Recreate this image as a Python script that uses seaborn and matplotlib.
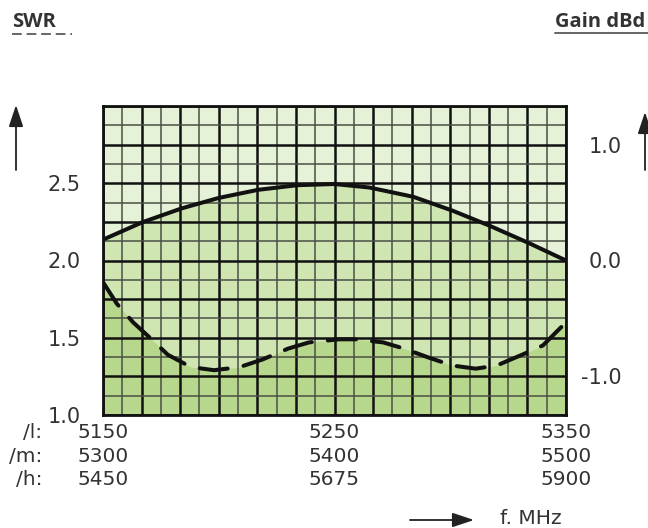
import numpy as np
import matplotlib
matplotlib.use("Agg")
import matplotlib.pyplot as plt
import seaborn as sns

# gain curve (dBd, right axis) over the /l band in MHz
freq_gain = [5150, 5167, 5184, 5200, 5217, 5234, 5250, 5265, 5284, 5301, 5317, 5334, 5350]
gain = [0.18, 0.33, 0.45, 0.54, 0.61, 0.65, 0.66, 0.63, 0.55, 0.43, 0.30, 0.15, 0.0]

# SWR curve (left axis)
freq_swr = [5150, 5156, 5163, 5171, 5178, 5188, 5198, 5209, 5219, 5230, 5239, 5252,
            5259, 5271, 5280, 5291, 5301, 5311, 5320, 5331, 5340, 5348, 5350]
swr = [1.86, 1.72, 1.60, 1.49, 1.39, 1.31, 1.29, 1.31, 1.36, 1.43, 1.47, 1.49,
       1.49, 1.47, 1.43, 1.37, 1.32, 1.30, 1.32, 1.39, 1.45, 1.57, 1.60]

# tick labels for the three bands
freq_l = [5150, 5250, 5350]
freq_m = [5300, 5400, 5500]
freq_h = [5450, 5675, 5900]
swr_ticks = [1.0, 1.5, 2.0, 2.5]
gain_ticks = [-1.0, 0.0, 1.0]

sns.set_style("white")
plt.rcParams["font.family"] = ["DejaVu Sans"]

txt = "#333333"
light = "#e6f2d8"
mid = "#cfe6b3"
dark = "#b6d78c"

fig = plt.figure(figsize=(6.48, 5.28), dpi=100)
ax = fig.add_axes([103 / 648, 1 - 415 / 528, 463 / 648, 309 / 528])
ax2 = ax.twinx()
ax.set_zorder(2)
ax2.set_zorder(1)
ax.patch.set_visible(False)

# background + area under the gain curve
ax2.axhspan(-4 / 3, 4 / 3, color=light, lw=0)
ax2.fill_between(freq_gain, -4 / 3, gain, color=mid, lw=0)
# area under the SWR curve
ax.fill_between(freq_swr, 1, swr, color=dark, lw=0)

# grid paper
gx = np.linspace(5150, 5350, 25)
gy = np.linspace(1, 3, 17)
ax.vlines(gx, 1, 3, colors=["#111111" if i % 2 == 0 else "#4a4f45" for i in range(len(gx))],
          linewidths=[1.8 if i % 2 == 0 else 1.1 for i in range(len(gx))])
ax.hlines(gy, 5150, 5350, colors=["#111111" if i % 2 == 0 else "#4a4f45" for i in range(len(gy))],
          linewidths=[1.8 if i % 2 == 0 else 1.1 for i in range(len(gy))])

sns.lineplot(x=freq_swr, y=swr, ax=ax, color="#111111", lw=2.9,
             linestyle=(0, (7, 4)), dash_capstyle="round")
sns.lineplot(x=freq_gain, y=gain, ax=ax, color="#111111", lw=2.9,
             transform=ax2.transData)

ax.set_xlim(5150, 5350)
ax.set_ylim(1, 3)
ax2.set_ylim(-4 / 3, 4 / 3)

for s in ax.spines.values():
    s.set_color("#111111")
    s.set_linewidth(2)
for s in ax2.spines.values():
    s.set_visible(False)

pad_x = 6
ax.set_xticks(freq_l)
ax.set_xticklabels([f"{l}\n{m}\n{h}" for l, m, h in zip(freq_l, freq_m, freq_h)],
                   linespacing=1.3, fontsize=14.5, color=txt)
ax.set_yticks(swr_ticks)
ax.set_yticklabels([f"{v:.1f}" for v in swr_ticks], fontsize=15, color=txt)
ax.tick_params(axis="x", length=0, pad=pad_x)
ax.tick_params(axis="y", length=0, pad=16)
ax2.set_yticks(gain_ticks)
ax2.set_yticklabels([f"{v:.1f}" for v in gain_ticks], fontsize=15, color=txt, ha="right")
ax2.tick_params(axis="y", length=0, pad=40)
ax.set_xlabel("")
ax.set_ylabel("")

ax.annotate("/l:\n/m:\n/h:", xy=(42 / 648, 0), xycoords=("figure fraction", "axes fraction"),
            xytext=(0, -pad_x), textcoords="offset points", ha="right", va="top",
            fontsize=14.5, linespacing=1.3, color=txt)

# headings
fig.text(12 / 648, 1 - 22 / 528, "SWR", family="Open Sans", weight="bold",
         fontsize=14.5, color=txt, va="center", ha="left")
fig.text(555 / 648, 1 - 22 / 528, "Gain dBd", family="Open Sans", weight="bold",
         fontsize=14.5, color=txt, va="center", ha="left")
fig.add_artist(plt.Line2D([12 / 648, 72 / 648], [1 - 34 / 528] * 2, color="#666666",
                          lw=1.4, linestyle=(0, (5, 2.5))))
fig.add_artist(plt.Line2D([555 / 648, 1.0], [1 - 33 / 528] * 2, color="#666666", lw=1.4))

# axis arrows
arrow = dict(arrowstyle="-|>,head_length=0.6,head_width=0.2", color="#222222", lw=1.3,
             mutation_scale=22, shrinkA=0, shrinkB=0)
ax.annotate("", xy=(16 / 648, 1 - 105 / 528), xytext=(16 / 648, 1 - 170 / 528),
            xycoords="figure fraction", arrowprops=arrow)
ax.annotate("", xy=(645 / 648, 1 - 112 / 528), xytext=(645 / 648, 1 - 170 / 528),
            xycoords="figure fraction", arrowprops=arrow)
ax.annotate("", xy=(474 / 648, 1 - 520 / 528), xytext=(410 / 648, 1 - 520 / 528),
            xycoords="figure fraction", arrowprops=arrow)
fig.text(500 / 648, 1 - 518 / 528, "f. MHz", fontsize=14.5, color=txt, va="center", ha="left")

fig.savefig("out.png", dpi=100)
